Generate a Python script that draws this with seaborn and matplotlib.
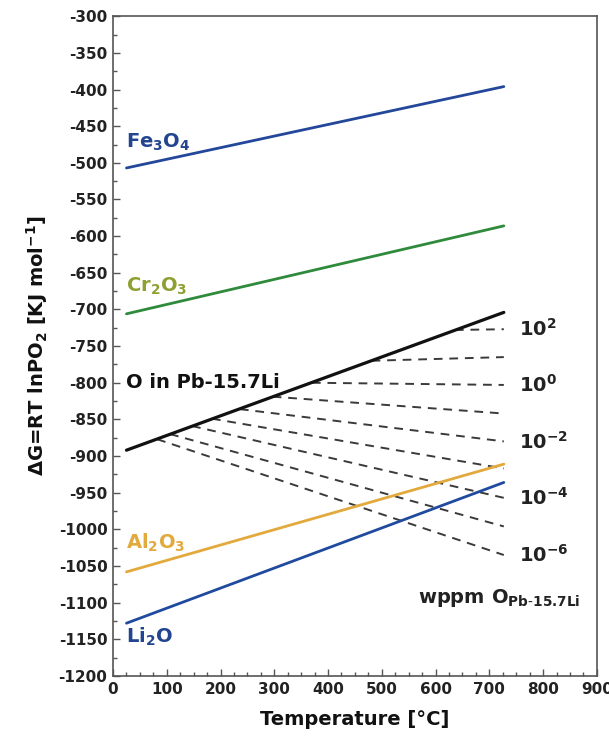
import numpy as np
import pandas as pd
import matplotlib
matplotlib.use("Agg")
import matplotlib.pyplot as plt
from matplotlib.ticker import MultipleLocator
import seaborn as sns

# ---- data ----
T_range = [25, 727]                       # °C, start/end of oxide lines
oxides = ["Fe$_3$O$_4$", "Cr$_2$O$_3$", "Al$_2$O$_3$", "Li$_2$O"]
oxide_start = [-507, -706, -1058, -1128]  # kJ/mol at 25 °C
oxide_end = [-396, -586, -911, -936]      # kJ/mol at 727 °C
oxide_line_colors = ["#23479a", "#2f8a3c", "#e2a93c", "#1f4a9e"]
oxide_text_colors = ["#23458f", "#8fa032", "#e2a93c", "#23458f"]
oxide_label_y = [-472, -668, -1019, -1146]

sat_label = "O in Pb-15.7Li"
sat_start = -892
sat_end = -704

conc_exp = [2, 1, 0, -1, -2, -3, -4, -5, -6]               # log10 wppm O
conc_T_start = [636, 481, 370, 297, 236, 184, 147, 106, 82]  # on saturation line
conc_G_start = [-728, -770, -800, -819, -836, -849, -859, -870, -877]
conc_G_end = [-727, -765, -803, -842, -880, -917, -957, -996, -1035]
conc_labels = ["10$^{2}$", "10$^{0}$", "10$^{-2}$", "10$^{-4}$", "10$^{-6}$"]
conc_label_exp = [2, 0, -2, -4, -6]

# ---- figure ----
sns.set_theme(style="white")
plt.rcParams["font.family"] = ["DejaVu Sans"]
plt.rcParams["axes.unicode_minus"] = False
plt.rcParams["mathtext.default"] = "bf"
fig = plt.figure(figsize=(6.09, 7.37), dpi=100)
ax = fig.add_axes([0.1856, 0.0828, 0.7944, 0.8952])

# dashed iso-concentration lines
for e, t0, g0, g1 in zip(conc_exp, conc_T_start, conc_G_start, conc_G_end):
    d = pd.DataFrame({"T": [t0, T_range[1]], "G": [g0, g1]})
    sns.lineplot(data=d, x="T", y="G", ax=ax, color="#3a3a3a", lw=1.4,
                 dashes=False, linestyle=(0, (4.5, 3.5)), zorder=2)

# saturation line
d = pd.DataFrame({"T": T_range, "G": [sat_start, sat_end]})
sns.lineplot(data=d, x="T", y="G", ax=ax, color="#111111", lw=2.3, zorder=3)

# oxide lines
for name, g0, g1, c in zip(oxides, oxide_start, oxide_end, oxide_line_colors):
    d = pd.DataFrame({"T": T_range, "G": [g0, g1]})
    sns.lineplot(data=d, x="T", y="G", ax=ax, color=c, lw=2.0, zorder=4)

# labels
for name, yl, c in zip(oxides, oxide_label_y, oxide_text_colors):
    ax.text(25, yl, name, color=c, fontsize=14, fontweight="bold",
            ha="left", va="center")
ax.text(25, -800, sat_label, color="#111111", fontsize=14, fontweight="bold",
        ha="left", va="center")

for lab, e in zip(conc_labels, conc_label_exp):
    g = conc_G_end[conc_exp.index(e)]
    ax.text(755, g, lab, color="#222222", fontsize=14, fontweight="bold",
            ha="left", va="center")
ax.text(568, -1094, "wppm O$_{Pb\\text{-}15.7Li}$", color="#222222",
        fontsize=14, fontweight="bold", ha="left", va="center")

# axes
ax.set_xlim(0, 900)
ax.set_ylim(-1200, -300)
ax.xaxis.set_major_locator(MultipleLocator(100))
ax.xaxis.set_minor_locator(MultipleLocator(25))
ax.yaxis.set_major_locator(MultipleLocator(50))
ax.yaxis.set_minor_locator(MultipleLocator(25))
ax.tick_params(which="major", direction="in", length=5, width=1, color="#555555",
               labelsize=11, pad=4)
ax.tick_params(which="minor", direction="in", length=3, width=1, color="#555555")
ax.tick_params(axis="both", which="both", bottom=True, left=True, top=False, right=False)
for lab in ax.get_xticklabels() + ax.get_yticklabels():
    lab.set_fontweight("bold")
    lab.set_color("#222222")
for s in ax.spines.values():
    s.set_color("#555555")
    s.set_linewidth(1.2)

ax.set_xlabel("Temperature [°C]", fontsize=14, fontweight="bold", color="#111111",
              labelpad=10)
ax.set_ylabel("ΔG=RT lnPO$_2$ [KJ mol$^{-1}$]", fontsize=14,
              fontweight="bold", color="#111111", labelpad=6)

fig.savefig("out.png", dpi=100)
